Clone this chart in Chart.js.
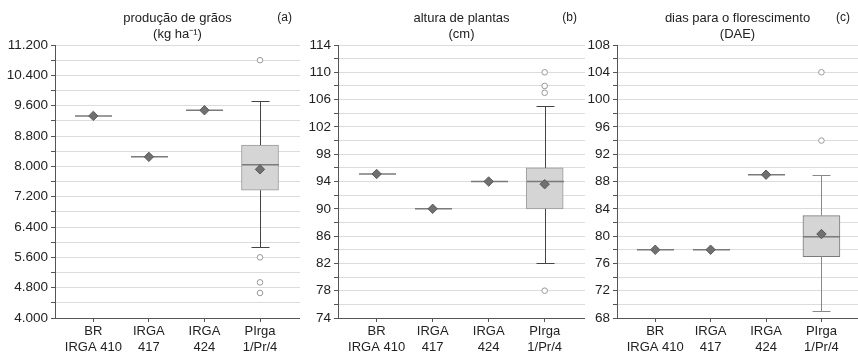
<!DOCTYPE html>
<html>
<head>
<meta charset="utf-8">
<script src="https://cdn.jsdelivr.net/npm/chart.js@4/dist/chart.umd.min.js"></script>
<style>
  html, body { margin: 0; padding: 0; background: #fff; }
  #wrap { position: relative; width: 858px; height: 355px; overflow: hidden; }
  canvas { position: absolute; top: 0; }
</style>
</head>
<body>
<div id="wrap">
  <canvas id="panelA" width="300" height="355" style="left:0px"></canvas>
  <canvas id="panelB" width="285" height="355" style="left:300px"></canvas>
  <canvas id="panelC" width="273" height="355" style="left:585px"></canvas>
</div>
<script>
// categories shared by the three panels
const categories = [['BR', 'IRGA 410'], ['IRGA', '417'], ['IRGA', '424'], ['PIrga', '1/Pr/4']];

// (a) produção de grãos (kg/ha)
const grainLow = [9330, 8250, 9480, 5860];
const grainQ1 = [9330, 8250, 9480, 7370];
const grainMedian = [9330, 8250, 9480, 8040];
const grainQ3 = [9330, 8250, 9480, 8560];
const grainHigh = [9330, 8250, 9480, 9720];
const grainMean = [9330, 8250, 9480, 7920];
const grainOutliers = [[], [], [], [10800, 5600, 4940, 4660]];

// (b) altura de plantas (cm)
const heightLow = [95.1, 90, 94, 82];
const heightQ1 = [95.1, 90, 94, 90];
const heightMedian = [95.1, 90, 94, 94];
const heightQ3 = [95.1, 90, 94, 96];
const heightHigh = [95.1, 90, 94, 105];
const heightMean = [95.1, 90, 94, 93.6];
const heightOutliers = [[], [], [], [110, 108, 107, 78]];

// (c) dias para o florescimento (DAE)
const daysLow = [78, 78, 89, 69];
const daysQ1 = [78, 78, 89, 77];
const daysMedian = [78, 78, 89, 79.9];
const daysQ3 = [78, 78, 89, 83];
const daysHigh = [78, 78, 89, 89];
const daysMean = [78, 78, 89, 80.3];
const daysOutliers = [[], [], [], [104, 94]];

const FONT = "'Liberation Sans', Arial, sans-serif";
const BOX_W = 37;
const CAP_W = 18;

function thousands(v) {
  return String(v).replace(/\B(?=(\d{3})+(?!\d))/g, '.');
}

// whiskers, caps and median lines, drawn right after the boxes
const boxExtras = {
  id: 'boxExtras',
  afterDatasetDraw(chart, args, opts) {
    if (args.index !== 0) return;
    const ctx = chart.ctx;
    const x = chart.scales.x, y = chart.scales.y;
    const p = opts.panel;
    ctx.save();
    for (let i = 0; i < categories.length; i++) {
      const cx = Math.round(x.getPixelForValue(i)) + 0.5;
      // whiskers
      ctx.strokeStyle = p.whiskerColor;
      ctx.lineWidth = 1;
      const segs = [[p.q3[i], p.high[i]], [p.q1[i], p.low[i]]];
      segs.forEach(([from, to]) => {
        if (from === to) return;
        const y1 = y.getPixelForValue(from), y2 = Math.round(y.getPixelForValue(to)) + 0.5;
        ctx.beginPath();
        ctx.moveTo(cx, y1);
        ctx.lineTo(cx, y2);
        ctx.moveTo(cx - CAP_W / 2, y2);
        ctx.lineTo(cx + CAP_W / 2, y2);
        ctx.stroke();
      });
      // median
      const my = y.getPixelForValue(p.median[i]);
      ctx.strokeStyle = p.medianColor;
      ctx.lineWidth = 1.5;
      ctx.beginPath();
      ctx.moveTo(cx - BOX_W / 2, my);
      ctx.lineTo(cx + BOX_W / 2, my);
      ctx.stroke();
    }
    ctx.restore();
  }
};

// title lines and panel letter
const panelText = {
  id: 'panelText',
  afterDraw(chart, args, opts) {
    const ctx = chart.ctx;
    const a = chart.chartArea;
    ctx.save();
    ctx.fillStyle = '#222';
    ctx.font = '13px ' + FONT;
    ctx.textAlign = 'center';
    ctx.textBaseline = 'middle';
    const cx = (a.left + a.right) / 2;
    ctx.fillText(opts.title[0], cx, 18);
    ctx.fillText(opts.title[1], cx, 34);
    ctx.textAlign = 'right';
    ctx.font = '12px ' + FONT;
    ctx.fillText(opts.letter, a.right - 8, 18);
    ctx.restore();
  }
};

function makePanel(id, p) {
  const boxData = categories.map((c, i) => ({ x: i, y: [p.q1[i], p.q3[i]] }));
  const meanData = categories.map((c, i) => ({ x: i, y: p.mean[i] }));
  const outData = [];
  p.outliers.forEach((arr, i) => arr.forEach(v => outData.push({ x: i, y: v })));

  new Chart(document.getElementById(id), {
    type: 'scatter',
    data: {
      datasets: [
        {
          type: 'bar',
          data: boxData,
          backgroundColor: '#d5d5d5',
          borderColor: p.boxBorder,
          borderWidth: 1,
          borderSkipped: false,
          barThickness: BOX_W,
          order: 3
        },
        {
          data: meanData,
          pointStyle: 'rectRot',
          pointRadius: 4.7,
          backgroundColor: '#707070',
          borderColor: '#5a5a5a',
          borderWidth: 1,
          order: 1
        },
        {
          data: outData,
          pointStyle: 'circle',
          pointRadius: 2.8,
          backgroundColor: '#fff',
          borderColor: '#999',
          borderWidth: 1,
          order: 2
        }
      ]
    },
    options: {
      responsive: false,
      animation: false,
      devicePixelRatio: 1,
      layout: { autoPadding: false, padding: { top: 45, right: 0, bottom: 0, left: 0 } },
      plugins: {
        legend: { display: false },
        tooltip: { enabled: false },
        boxExtras: { panel: p },
        panelText: { title: p.title, letter: p.letter }
      },
      scales: {
        x: {
          type: 'linear',
          offset: false,
          min: -0.69,
          max: p.xMax,
          afterBuildTicks: s => { s.ticks = categories.map((c, i) => ({ value: i })); },
          afterFit: s => { s.height = 37; s.paddingLeft = 0; s.paddingRight = 0; },
          ticks: {
            callback: v => categories[v],
            color: '#222',
            font: { family: FONT, size: 13 },
            padding: 2,
            maxRotation: 0,
            autoSkip: false
          },
          grid: { offset: false, drawOnChartArea: false, tickLength: 4, tickColor: '#555' },
          border: { color: '#555' }
        },
        y: {
          min: p.min,
          max: p.max,
          afterFit: s => { s.width = p.axisWidth; },
          ticks: {
            stepSize: p.step,
            autoSkip: false,
            callback: v => ((v - p.min) % (p.step * 2) === 0 ? p.fmt(v) : ''),
            color: '#222',
            font: { family: FONT, size: 13.5 },
            padding: 3
          },
          grid: { color: '#dcdcdc', tickLength: 4, tickColor: '#555' },
          border: { color: '#555' }
        }
      }
    },
    plugins: [boxExtras, panelText]
  });
}

makePanel('panelA', {
  title: ['produção de grãos', '(kg ha⁻¹)'], letter: '(a)',
  low: grainLow, q1: grainQ1, median: grainMedian, q3: grainQ3, high: grainHigh,
  mean: grainMean, outliers: grainOutliers,
  min: 4000, max: 11200, step: 400, fmt: thousands, axisWidth: 55, xMax: 3.72,
  boxBorder: '#999', whiskerColor: '#444', medianColor: '#7a7a7a'
});

makePanel('panelB', {
  title: ['altura de plantas', '(cm)'], letter: '(b)',
  low: heightLow, q1: heightQ1, median: heightMedian, q3: heightQ3, high: heightHigh,
  mean: heightMean, outliers: heightOutliers,
  min: 74, max: 114, step: 2, fmt: v => String(v), axisWidth: 38, xMax: 3.72,
  boxBorder: '#999', whiskerColor: '#444', medianColor: '#7a7a7a'
});

makePanel('panelC', {
  title: ['dias para o florescimento', '(DAE)'], letter: '(c)',
  low: daysLow, q1: daysQ1, median: daysMedian, q3: daysQ3, high: daysHigh,
  mean: daysMean, outliers: daysOutliers,
  min: 68, max: 108, step: 2, fmt: v => String(v), axisWidth: 32, xMax: 3.66,
  boxBorder: '#7a7a7a', whiskerColor: '#888', medianColor: '#7a7a7a'
});
</script>
</body>
</html>
